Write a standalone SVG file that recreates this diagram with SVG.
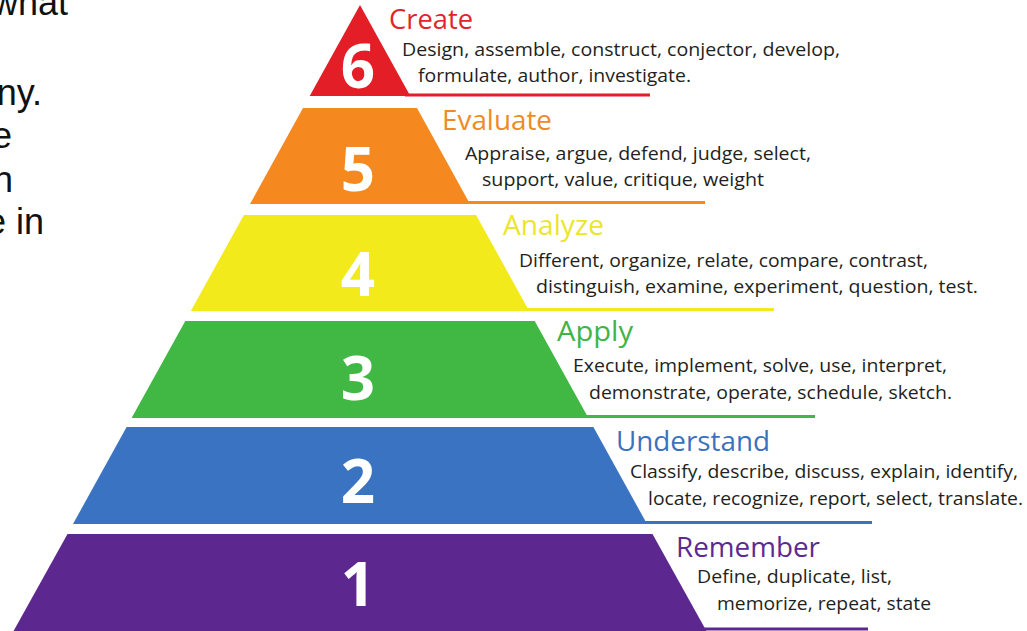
<svg xmlns="http://www.w3.org/2000/svg" width="1027" height="631" viewBox="0 0 1027 631">
  <style>
    .num { font-family: "Open Sans", "Liberation Sans", sans-serif; font-weight: bold; font-size: 60px; fill: #ffffff; text-anchor: middle; }
    .title { font-family: "Open Sans", "Liberation Sans", sans-serif; font-size: 27px; }
    .desc { font-family: "Open Sans", "Liberation Sans", sans-serif; font-size: 17.5px; fill: #231f20; }
    .side { font-family: "Liberation Sans", Arial, sans-serif; font-size: 36px; fill: #111111; text-anchor: end; }
    .rule { stroke-width: 3; fill: none; }
  </style>
  <rect width="1027" height="631" fill="#ffffff"/>

  <g id="side-text">
    <text class="side" x="68" y="15">what</text>
    <text class="side" x="42" y="105">ny.</text>
    <text class="side" x="12" y="148">e</text>
    <text class="side" x="13" y="192">n</text>
    <text class="side" x="44" y="234">e in</text>
  </g>

  <g id="level-6">
    <polygon points="360,5 410.3,96 309.7,96" fill="#e31e26"/>
    <line class="rule" x1="405" y1="95" x2="650" y2="95" stroke="#e31e26"/>
    <text class="num" x="358" y="88">6</text>
    <text class="title" x="389" y="29" fill="#e0252d" textLength="84" lengthAdjust="spacingAndGlyphs">Create</text>
    <text class="desc" x="402" y="56" textLength="438" lengthAdjust="spacingAndGlyphs">Design, assemble, construct, conjector, develop,</text>
    <text class="desc" x="418" y="82" textLength="273" lengthAdjust="spacingAndGlyphs">formulate, author, investigate.</text>
  </g>

  <g id="level-5">
    <polygon points="303,108 417,108 470,204 250,204" fill="#f5891f"/>
    <line class="rule" x1="465" y1="202.5" x2="705" y2="202.5" stroke="#f5891f"/>
    <text class="num" x="358" y="191">5</text>
    <text class="title" x="442" y="130" fill="#f08a24" textLength="110" lengthAdjust="spacingAndGlyphs">Evaluate</text>
    <text class="desc" x="465" y="160" textLength="346" lengthAdjust="spacingAndGlyphs">Appraise, argue, defend, judge, select,</text>
    <text class="desc" x="482" y="186" textLength="282" lengthAdjust="spacingAndGlyphs">support, value, critique, weight</text>
  </g>

  <g id="level-4">
    <polygon points="243.9,215 476.1,215 529.2,311 190.8,311" fill="#f2ea1a"/>
    <line class="rule" x1="525" y1="309.5" x2="774" y2="309.5" stroke="#f2ea1a"/>
    <text class="num" x="358" y="296">4</text>
    <text class="title" x="503" y="235" fill="#ece52e" textLength="101" lengthAdjust="spacingAndGlyphs">Analyze</text>
    <text class="desc" x="519" y="267" textLength="409" lengthAdjust="spacingAndGlyphs">Different, organize, relate, compare, contrast,</text>
    <text class="desc" x="536" y="293" textLength="442" lengthAdjust="spacingAndGlyphs">distinguish, examine, experiment, question, test.</text>
  </g>

  <g id="level-3">
    <polygon points="185.3,321 534.7,321 588.4,418 131.6,418" fill="#41b843"/>
    <line class="rule" x1="584" y1="416.5" x2="815" y2="416.5" stroke="#41b843"/>
    <text class="num" x="358" y="400">3</text>
    <text class="title" x="557" y="341" fill="#42b447" textLength="76" lengthAdjust="spacingAndGlyphs">Apply</text>
    <text class="desc" x="573" y="372" textLength="374" lengthAdjust="spacingAndGlyphs">Execute, implement, solve, use, interpret,</text>
    <text class="desc" x="589" y="399" textLength="363" lengthAdjust="spacingAndGlyphs">demonstrate, operate, schedule, sketch.</text>
  </g>

  <g id="level-2">
    <polygon points="126.6,427 593.4,427 647,524 73,524" fill="#3b73c3"/>
    <line class="rule" x1="643" y1="522.5" x2="872" y2="522.5" stroke="#3b73c3"/>
    <text class="num" x="358" y="503">2</text>
    <text class="title" x="616" y="451" fill="#3a72c0" textLength="154" lengthAdjust="spacingAndGlyphs">Understand</text>
    <text class="desc" x="630" y="478" textLength="388" lengthAdjust="spacingAndGlyphs">Classify, describe, discuss, explain, identify,</text>
    <text class="desc" x="648" y="505" textLength="375" lengthAdjust="spacingAndGlyphs">locate, recognize, report, select, translate.</text>
  </g>

  <g id="level-1">
    <polygon points="67.5,534 652.5,534 707,632 13,632" fill="#5c2890"/>
    <line class="rule" x1="700" y1="629" x2="868" y2="629" stroke="#5c2890"/>
    <text class="num" x="358" y="606">1</text>
    <text class="title" x="676" y="557" fill="#5c2a90" textLength="144" lengthAdjust="spacingAndGlyphs">Remember</text>
    <text class="desc" x="697" y="583" textLength="195" lengthAdjust="spacingAndGlyphs">Define, duplicate, list,</text>
    <text class="desc" x="717" y="610" textLength="214" lengthAdjust="spacingAndGlyphs">memorize, repeat, state</text>
  </g>
</svg>
